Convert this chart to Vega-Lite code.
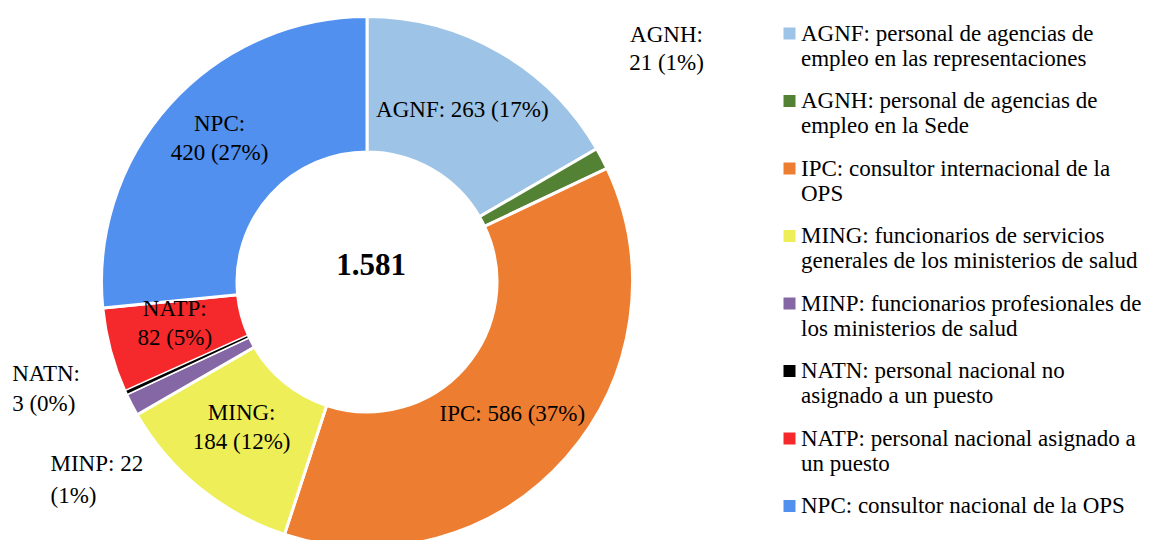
{
  "$schema": "https://vega.github.io/schema/vega-lite/v6.json",
  "width": 734,
  "height": 564,
  "padding": 0,
  "background": "white",
  "config": {
    "view": {"stroke": null},
    "font": "Liberation Serif",
    "locale": {"number": {"decimal": ",", "thousands": ".", "grouping": [3], "currency": ["", " €"]}}
  },
  "data": {
    "values": [
      {"code": "AGNF", "desc": "AGNF: personal de agencias de|empleo en las representaciones", "value": 263, "label": "AGNF: 263 (17%)"},
      {"code": "AGNH", "desc": "AGNH: personal de agencias de|empleo en la Sede", "value": 21, "label": "AGNH:|21 (1%)"},
      {"code": "IPC", "desc": "IPC: consultor internacional de la|OPS", "value": 586, "label": "IPC: 586 (37%)"},
      {"code": "MING", "desc": "MING: funcionarios de servicios|generales de los ministerios de salud", "value": 184, "label": "MING:|184 (12%)"},
      {"code": "MINP", "desc": "MINP: funcionarios profesionales de|los ministerios de salud", "value": 22, "label": "MINP: 22|(1%)"},
      {"code": "NATN", "desc": "NATN: personal nacional no|asignado a un puesto", "value": 3, "label": "NATN:|3 (0%)"},
      {"code": "NATP", "desc": "NATP: personal nacional asignado a|un puesto", "value": 82, "label": "NATP:|82 (5%)"},
      {"code": "NPC", "desc": "NPC: consultor nacional de la OPS", "value": 420, "label": "NPC:|420 (27%)"}
    ]
  },
  "layer": [
    {
      "mark": {"type": "arc", "innerRadius": 130, "outerRadius": 265.5, "stroke": "white", "strokeWidth": 3},
      "encoding": {
        "theta": {"field": "value", "type": "quantitative", "stack": true},
        "order": {"field": "code", "sort": "ascending"},
        "color": {
          "field": "desc",
          "type": "nominal",
          "scale": {
            "domain": [
              "AGNF: personal de agencias de|empleo en las representaciones",
              "AGNH: personal de agencias de|empleo en la Sede",
              "IPC: consultor internacional de la|OPS",
              "MING: funcionarios de servicios|generales de los ministerios de salud",
              "MINP: funcionarios profesionales de|los ministerios de salud",
              "NATN: personal nacional no|asignado a un puesto",
              "NATP: personal nacional asignado a|un puesto",
              "NPC: consultor nacional de la OPS"
            ],
            "range": ["#9DC3E6", "#548235", "#ED7D31", "#EEEE58", "#8667A6", "#000000", "#F5292B", "#5190EE"]
          },
          "legend": {
            "title": null,
            "orient": "none",
            "legendX": 778,
            "legendY": 22,
            "symbolType": "square",
            "symbolSize": 144,
            "symbolStrokeWidth": 0,
            "labelFont": "Liberation Serif",
            "labelFontSize": 23,
            "labelColor": "#000000",
            "labelLimit": 440,
            "labelOffset": 0,
            "labelBaseline": "middle",
            "rowPadding": 18.5,
            "labelExpr": "split(datum.label, '|')",
            "encode": {
              "labels": {"update": {"lineHeight": {"value": 24.5}}}
            }
          }
        }
      }
    },
    {
      "mark": {"type": "arc", "innerRadius": 131.5, "outerRadius": 264, "fill": "#000000", "strokeWidth": 0},
      "encoding": {
        "theta": {"field": "value", "type": "quantitative", "stack": true},
        "order": {"field": "code", "sort": "ascending"},
        "opacity": {"condition": {"test": "datum.code === 'NATN'", "value": 1}, "value": 0}
      }
    },
    {
      "mark": {"type": "text", "radius": 199, "dx": -4, "fontSize": 23, "font": "Liberation Serif", "color": "#000000", "align": "center", "baseline": "middle"},
      "encoding": {
        "theta": {"field": "value", "type": "quantitative", "stack": true},
        "order": {"field": "code", "sort": "ascending"},
        "text": {
          "condition": {"test": "indexof(['AGNF','IPC'], datum.code) >= 0", "field": "label"},
          "value": ""
        }
      }
    },
    {
      "mark": {"type": "text", "radius": 199, "dy": -24, "fontSize": 23, "font": "Liberation Serif", "color": "#000000", "lineBreak": "|", "lineHeight": 29, "align": "center", "baseline": "middle"},
      "encoding": {
        "theta": {"field": "value", "type": "quantitative", "stack": true},
        "order": {"field": "code", "sort": "ascending"},
        "text": {
          "condition": {"test": "indexof(['MING','NATP','NPC'], datum.code) >= 0", "field": "label"},
          "value": ""
        }
      }
    },
    {
      "transform": [
        {"stack": "value", "groupby": [], "sort": [{"field": "code", "order": "ascending"}], "as": ["v0", "v1"]},
        {"filter": "datum.code === 'AGNH'"}
      ],
      "mark": {"type": "text", "radius": 300, "dx": 40, "dy": -96, "fontSize": 23, "font": "Liberation Serif", "color": "#000000", "lineBreak": "|", "lineHeight": 28, "align": "center", "baseline": "middle"},
      "encoding": {
        "theta": {"field": "v0", "type": "quantitative", "stack": null},
        "text": {"field": "label"}
      }
    },
    {
      "transform": [
        {"stack": "value", "groupby": [], "sort": [{"field": "code", "order": "ascending"}], "as": ["v0", "v1"]},
        {"filter": "datum.code === 'NATN'"}
      ],
      "mark": {"type": "text", "radius": 280, "dx": -101, "dy": -26, "fontSize": 23, "font": "Liberation Serif", "color": "#000000", "lineBreak": "|", "lineHeight": 30, "align": "left", "baseline": "middle"},
      "encoding": {
        "theta": {"field": "v0", "type": "quantitative", "stack": null},
        "text": {"field": "label"}
      }
    },
    {
      "transform": [
        {"stack": "value", "groupby": [], "sort": [{"field": "code", "order": "ascending"}], "as": ["v0", "v1"]},
        {"filter": "datum.code === 'MINP'"}
      ],
      "mark": {"type": "text", "radius": 280, "dx": -74, "dy": 42, "fontSize": 23, "font": "Liberation Serif", "color": "#000000", "lineBreak": "|", "lineHeight": 32, "align": "left", "baseline": "middle"},
      "encoding": {
        "theta": {"field": "v0", "type": "quantitative", "stack": null},
        "text": {"field": "label"}
      }
    },
    {
      "transform": [{"aggregate": [{"op": "sum", "field": "value", "as": "total"}]}],
      "mark": {"type": "text", "fontSize": 31, "fontWeight": "bold", "font": "Liberation Serif", "color": "#000000", "dx": 4, "dy": -16, "align": "center", "baseline": "middle"},
      "encoding": {
        "text": {"field": "total", "type": "quantitative", "format": ",d"}
      }
    }
  ]
}
